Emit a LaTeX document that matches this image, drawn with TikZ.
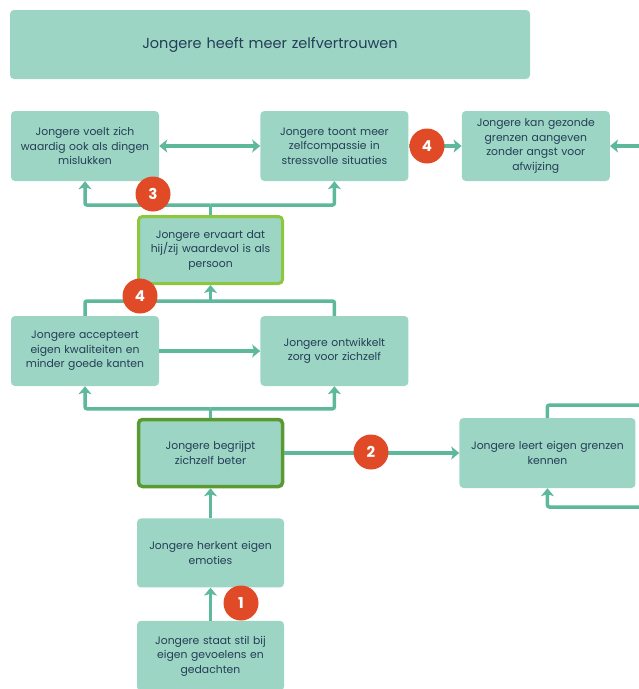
\documentclass[tikz,border=0pt]{standalone}
\usepackage{fontspec}
\setmainfont{Poppins}
\usetikzlibrary{positioning,arrows.meta,calc}
\definecolor{cBox}{HTML}{9DD5C5}
\definecolor{cLine}{HTML}{5DB89C}
\definecolor{cText}{HTML}{233E55}
\definecolor{cRed}{HTML}{E04A26}
\definecolor{cLime}{HTML}{8DC63F}
\definecolor{cDark}{HTML}{5A9A32}

\begin{document}
\begin{tikzpicture}[x=1pt,y=-1pt,
  font=\fontsize{10.8}{14.5}\selectfont, text=cText,
  box/.style={fill=cBox,rounded corners=4pt,minimum width=148pt,minimum height=70pt,text width=144pt,align=center,inner sep=0pt},
  badge/.style={circle,fill=cRed,minimum size=35pt,inner sep=0pt,text=white,font=\fontsize{15}{15}\selectfont\bfseries},
  ln/.style={draw=cLine,line width=3.5pt,rounded corners=2pt},
  ar/.style={ln,-{Stealth[length=8pt,width=13pt,inset=2pt]}}
]
\useasboundingbox (0,0) rectangle (639,689);
\node[box,minimum width=520pt,minimum height=69pt,text width=500pt,font=\fontsize{14.5}{16}\selectfont] (goal) at (270,44.5) {Jongere heeft meer zelfvertrouwen};
\node[box] (waardig) at (85,146) {Jongere voelt zich\\waardig ook als dingen\\mislukken};
\node[box,right=101pt of waardig] (compassie) {Jongere toont meer\\zelfcompassie in\\stressvolle situaties};
\node[box,right=53pt of compassie] (gezond) {Jongere kan gezonde\\grenzen aangeven\\zonder angst voor\\afwijzing};
\node[box,draw=cLime,line width=3pt,minimum width=144pt,minimum height=67pt] (waardevol) at (210.5,250) {Jongere ervaart dat\\hij/zij waardevol is als\\persoon};
\node[box] (accepteert) at (85,351) {Jongere accepteert\\eigen kwaliteiten en\\minder goede kanten};
\node[box,right=101pt of accepteert] (zorg) {Jongere ontwikkelt\\zorg voor zichzelf};
\node[box,draw=cDark,line width=3.5pt,minimum width=144pt,minimum height=67pt] (begrijpt) at (210.5,453) {Jongere begrijpt\\zichzelf beter};
\node[box,minimum width=176pt,text width=174pt,right=175pt of begrijpt] (leert) {Jongere leert eigen grenzen\\kennen};
\node[box,minimum width=147pt,minimum height=69pt,below=30pt of begrijpt] (herkent) {Jongere herkent eigen\\emoties};
\node[box,minimum width=147pt,below=33pt of herkent] (stil) {Jongere staat stil bij\\eigen gevoelens en\\gedachten};

% forks between the rows
\coordinate (fTop) at ($(waardevol.north)+(0,-10)$);
\coordinate (fMid) at ($(waardevol.south)+(0,16)$);
\coordinate (fLow) at ($(begrijpt.north)+(0,-9)$);
\draw[ln] (waardevol.north) -- (fTop);
\draw[ar] (fTop) -| (waardig.south);
\draw[ar] (fTop) -| (compassie.south);
\draw[ln] (accepteert.north) |- (fMid) -| (zorg.north);
\draw[ar] (fMid) -- (waardevol.south);
\draw[ln] (begrijpt.north) -- (fLow);
\draw[ar] (fLow) -| (accepteert.south);
\draw[ar] (fLow) -| (zorg.south);

% straight links
\draw[ln,{Stealth[length=8pt,width=13pt,inset=2pt]}-{Stealth[length=8pt,width=13pt,inset=2pt]}] (waardig) -- (compassie);
\draw[ar] (compassie) -- (gezond);
\draw[ar] (accepteert) -- (zorg);
\draw[ar] (begrijpt) -- (leert.west |- begrijpt);
\draw[ar] (herkent) -- (begrijpt);
\draw[ar] (stil) -- (herkent);

% loop leaving the picture on the right
\coordinate (outTop) at (640,405);
\coordinate (inBot) at (640,507);
\coordinate (inRight) at (640,146);
\draw[ln] (leert.north) |- (outTop);
\draw[ar] (inBot) -| (leert.south);
\draw[ar] (inRight) -- (gezond);

% numbered badges
\node[badge] (b3) at (153,194) {3};
\node[badge] (b4a) at (427,146) {4};
\node[badge] (b4b) at (140,296) {4};
\node[badge] (b2) at (371,452) {2};
\node[badge] (b1) at (241,603) {1};
\end{tikzpicture}
\end{document}
